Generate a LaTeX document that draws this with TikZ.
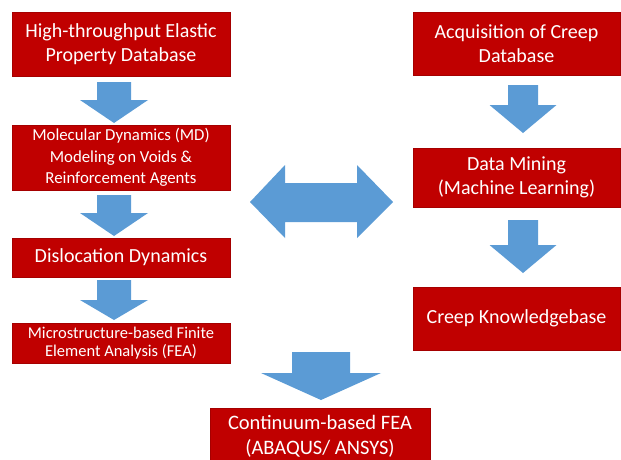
\documentclass[tikz,border=0pt]{standalone}
\usepackage{fontspec}
\setmainfont{Carlito}
\definecolor{boxred}{HTML}{C00000}
\definecolor{boxedge}{HTML}{A50000}
\definecolor{arrblue}{HTML}{5B9BD5}
\tikzset{
  box/.style={fill=boxred, draw=boxedge, line width=0.6pt, text=white, align=center, inner sep=0pt},
  blockarrow/.style={fill=arrblue, draw=none}
}
% center x, top y, half shaft width, half head width, head start y, tip y
\newcommand\blockdown[6]{%
  \fill[blockarrow] ({#1-#3},#2) -- ({#1+#3},#2) -- ({#1+#3},#5) -- ({#1+#4},#5) -- (#1,#6) -- ({#1-#4},#5) -- ({#1-#3},#5) -- cycle;}
\begin{document}
\begin{tikzpicture}[x=1pt,y=-1pt]
\useasboundingbox (0,0) rectangle (621,459);
\clip (0,0) rectangle (621,459);
% left column
\node[box, minimum width=218pt, minimum height=64pt, font=\fontsize{20}{23.5}\selectfont] (b1) at (121,44) {High-throughput Elastic\\Property Database};
\node[box, minimum width=218pt, minimum height=65pt, font=\fontsize{16.8}{21.5}\selectfont] (b2) at (121,157.5) {Molecular Dynamics (MD)\\Modeling on Voids \&\\Reinforcement Agents};
\node[box, minimum width=218pt, minimum height=39pt, font=\fontsize{20}{23}\selectfont] (b3) at (121,257.5) {Dislocation Dynamics};
\node[box, minimum width=218pt, minimum height=40pt, font=\fontsize{16.5}{17.5}\selectfont] (b4) at (121,343) {Microstructure-based Finite\\Element Analysis (FEA)};
% right column
\node[box, minimum width=207pt, minimum height=63pt, font=\fontsize{20}{23.5}\selectfont] (r1) at (516.5,43.5) {Acquisition of Creep\\Database};
\node[box, minimum width=207pt, minimum height=59pt, font=\fontsize{20}{23.5}\selectfont] (r2) at (516.5,177.5) {Data Mining\\(Machine Learning)};
\node[box, minimum width=207pt, minimum height=63pt, font=\fontsize{20}{23}\selectfont] (r3) at (516.5,318.5) {Creep Knowledgebase};
% bottom
\node[box, minimum width=220pt, minimum height=56pt, font=\fontsize{20.5}{25}\selectfont] (d) at (320,436) {Continuum-based FEA\\(ABAQUS/ ANSYS)};
% block arrows
\blockdown{114}{82}{17}{34}{100}{123}
\blockdown{114}{195}{17}{34}{213}{236}
\blockdown{114}{280}{17}{34}{300}{320}
\blockdown{523}{85}{15}{33.5}{105}{133}
\blockdown{523}{220}{15}{33.5}{245}{273}
\blockdown{321}{352}{29}{60}{373}{400}
% double arrow
\fill[blockarrow] (250,202) -- (285,165) -- (285,183) -- (357,183) -- (357,165) -- (393,202) -- (357,238) -- (357,222) -- (285,222) -- (285,238) -- cycle;
\end{tikzpicture}
\end{document}
